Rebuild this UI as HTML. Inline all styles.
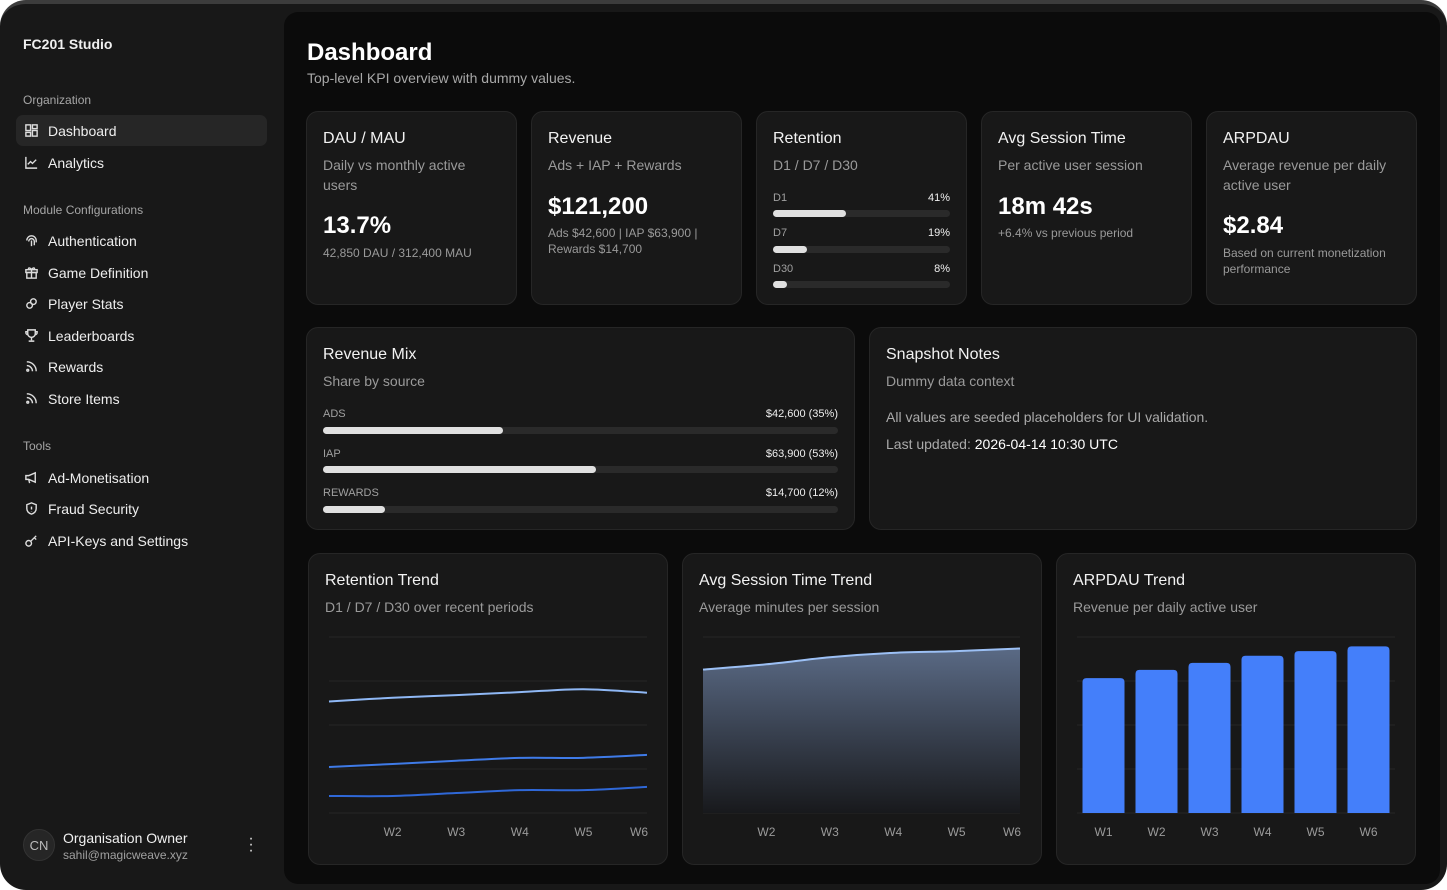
<!DOCTYPE html>
<html><head><meta charset="utf-8"><style>
*{box-sizing:border-box;margin:0;padding:0}
body{width:1447px;height:890px;background:#fff;font-family:"Liberation Sans",sans-serif;position:relative;overflow:hidden;color:#f2f2f2}
#frame{position:absolute;left:0;top:0;width:1447px;height:890px;background:#181818;border-radius:26px;border-top:4px solid #3c3c3c;overflow:hidden}
#side{position:absolute;left:0;top:0;width:284px;height:890px}
.abs{position:absolute}
.brand{left:23px;top:32px;font-size:14px;font-weight:bold;color:#f0f0f0}
.sec{left:23px;font-size:12px;color:#a6a6a6}
.nav{left:16px;width:251px;height:31px;border-radius:7px;display:flex;align-items:center;padding-left:8px;font-size:14px;color:#eee}
.nav svg{width:15px;height:15px;margin-right:9px;stroke:#ddd;fill:none;stroke-width:1.5}
.nav.act{background:#262626}
#main{position:absolute;left:284px;top:8px;width:1156px;height:872px;background:#0b0b0b;border-radius:14px}
.card{position:absolute;background:#181818;border:1px solid #262626;border-radius:12px}
.ct{position:absolute;left:16px;top:18px;font-size:16px;color:#f2f2f2}
.cs{position:absolute;left:16px;top:43px;font-size:14px;color:#9a9a9a;line-height:20px}
.big{position:absolute;left:16px;font-size:24px;font-weight:bold;color:#fff}
.sm{position:absolute;left:16px;font-size:12px;color:#9a9a9a;line-height:16px}
.track{position:absolute;height:7px;background:#2a2a2a;border-radius:4px}
.fill{height:7px;background:#e0e0e0;border-radius:4px}
.lbl{position:absolute;font-size:11px;color:#a0a0a0}
.val{position:absolute;font-size:11px;color:#eee;text-align:right}
</style></head><body>
<div id="frame">
<div id="side">
 <div class="abs brand">FC201 Studio</div>
 <div class="abs sec" style="top:89px">Organization</div>
 <div class="abs nav act" style="top:111px"><svg viewBox="0 0 16 16"><rect x="2" y="2" width="5" height="6"/><rect x="9" y="2" width="5" height="4"/><rect x="2" y="10" width="5" height="4"/><rect x="9" y="8" width="5" height="6"/></svg>Dashboard</div>
 <div class="abs nav" style="top:143px"><svg viewBox="0 0 16 16"><path d="M2 2v12h12M4 10l3-3 2 2 4-4"/></svg>Analytics</div>
 <div class="abs sec" style="top:199px">Module Configurations</div>
 <div class="abs nav" style="top:221px"><svg viewBox="0 0 16 16"><path d="M3 8a5 5 0 0 1 10 0v2M5 9a3 3 0 0 1 6 0v4M8 8v6"/></svg>Authentication</div>
 <div class="abs nav" style="top:253px"><svg viewBox="0 0 16 16"><rect x="2" y="5" width="12" height="3"/><rect x="3" y="8" width="10" height="6"/><path d="M8 5v9M8 5c-2-3-4-2-3 0M8 5c2-3 4-2 3 0"/></svg>Game Definition</div>
 <div class="abs nav" style="top:284px"><svg viewBox="0 0 16 16"><circle cx="6" cy="10" r="3"/><circle cx="10" cy="6" r="3"/></svg>Player Stats</div>
 <div class="abs nav" style="top:316px"><svg viewBox="0 0 16 16"><path d="M4 2h8v4a4 4 0 0 1-8 0zM8 10v3M5 14h6M4 4H2v1a2 2 0 0 0 2 2M12 4h2v1a2 2 0 0 1-2 2"/></svg>Leaderboards</div>
 <div class="abs nav" style="top:347px"><svg viewBox="0 0 16 16"><path d="M3 3a10 10 0 0 1 10 10M3 7a6 6 0 0 1 6 6"/><circle cx="4" cy="12" r="1"/></svg>Rewards</div>
 <div class="abs nav" style="top:379px"><svg viewBox="0 0 16 16"><path d="M3 3a10 10 0 0 1 10 10M3 7a6 6 0 0 1 6 6"/><circle cx="4" cy="12" r="1"/></svg>Store Items</div>
 <div class="abs sec" style="top:435px">Tools</div>
 <div class="abs nav" style="top:458px"><svg viewBox="0 0 16 16"><path d="M2 6h3l7-3v10l-7-3H2zM5 10l1 4"/></svg>Ad-Monetisation</div>
 <div class="abs nav" style="top:489px"><svg viewBox="0 0 16 16"><path d="M8 2l5 2v4c0 3-2 5-5 6-3-1-5-3-5-6V4zM8 6v3M8 11v.5"/></svg>Fraud Security</div>
 <div class="abs nav" style="top:521px"><svg viewBox="0 0 16 16"><circle cx="5" cy="11" r="3"/><path d="M7 9l6-6M11 5l2 2"/></svg>API-Keys and Settings</div>
 <div class="abs" style="left:23px;top:825px;width:32px;height:32px;border-radius:50%;background:#262626;border:1px solid #333;font-size:13px;color:#bbb;display:flex;align-items:center;justify-content:center">CN</div>
 <div class="abs" style="left:63px;top:826px;font-size:14px;color:#f0f0f0">Organisation Owner</div>
 <div class="abs" style="left:63px;top:844px;font-size:12px;color:#a0a0a0">sahil@magicweave.xyz</div>
 <div class="abs" style="left:245px;top:832px;font-size:16px;color:#ddd;line-height:6px;width:12px;text-align:center">·<br>·<br>·</div>
</div>

<div id="main">
 <div class="abs" style="left:23px;top:27px;font-size:24px;font-weight:bold;color:#fff">Dashboard</div>
 <div class="abs" style="left:23px;top:58px;font-size:14px;color:#a8a8a8">Top-level KPI overview with dummy values.</div>

 <div class="card" style="left:22px;top:99px;width:211px;height:194px">
  <div class="ct">DAU / MAU</div><div class="cs">Daily vs monthly active<br>users</div>
  <div class="big" style="top:100px">13.7%</div><div class="sm" style="top:133px">42,850 DAU / 312,400 MAU</div></div>
 <div class="card" style="left:247px;top:99px;width:211px;height:194px">
  <div class="ct">Revenue</div><div class="cs">Ads + IAP + Rewards</div>
  <div class="big" style="top:81px">$121,200</div><div class="sm" style="top:113px">Ads $42,600 | IAP $63,900 |<br>Rewards $14,700</div></div>
 <div class="card" style="left:472px;top:99px;width:211px;height:194px">
  <div class="ct">Retention</div><div class="cs">D1 / D7 / D30</div>
  <div class="lbl" style="left:16px;top:80px">D1</div><div class="val" style="right:16px;top:80px">41%</div>
  <div class="track" style="left:16px;top:98px;width:177px"><div class="fill" style="width:41%"></div></div>
  <div class="lbl" style="left:16px;top:115px">D7</div><div class="val" style="right:16px;top:115px">19%</div>
  <div class="track" style="left:16px;top:134px;width:177px"><div class="fill" style="width:19%"></div></div>
  <div class="lbl" style="left:16px;top:151px">D30</div><div class="val" style="right:16px;top:151px">8%</div>
  <div class="track" style="left:16px;top:169px;width:177px"><div class="fill" style="width:8%"></div></div></div>
 <div class="card" style="left:697px;top:99px;width:211px;height:194px">
  <div class="ct">Avg Session Time</div><div class="cs">Per active user session</div>
  <div class="big" style="top:81px">18m 42s</div><div class="sm" style="top:113px">+6.4% vs previous period</div></div>
 <div class="card" style="left:922px;top:99px;width:211px;height:194px">
  <div class="ct">ARPDAU</div><div class="cs">Average revenue per daily<br>active user</div>
  <div class="big" style="top:100px">$2.84</div><div class="sm" style="top:133px">Based on current monetization<br>performance</div></div>

 <div class="card" style="left:22px;top:315px;width:549px;height:203px">
  <div class="ct">Revenue Mix</div><div class="cs">Share by source</div>
  <div class="lbl" style="left:16px;top:80px">ADS</div><div class="val" style="right:16px;top:80px">$42,600 (35%)</div>
  <div class="track" style="left:16px;top:99px;width:515px"><div class="fill" style="width:35%"></div></div>
  <div class="lbl" style="left:16px;top:120px">IAP</div><div class="val" style="right:16px;top:120px">$63,900 (53%)</div>
  <div class="track" style="left:16px;top:138px;width:515px"><div class="fill" style="width:53%"></div></div>
  <div class="lbl" style="left:16px;top:159px">REWARDS</div><div class="val" style="right:16px;top:159px">$14,700 (12%)</div>
  <div class="track" style="left:16px;top:178px;width:515px"><div class="fill" style="width:12%"></div></div></div>
 <div class="card" style="left:585px;top:315px;width:548px;height:203px">
  <div class="ct">Snapshot Notes</div><div class="cs">Dummy data context</div>
  <div class="abs" style="left:16px;top:81px;font-size:14px;color:#aaa">All values are seeded placeholders for UI validation.</div>
  <div class="abs" style="left:16px;top:108px;font-size:14px;color:#aaa">Last updated: <span style="color:#fff">2026-04-14 10:30 UTC</span></div></div>

 <div class="card" style="left:24px;top:541px;width:360px;height:312px">
  <div class="ct">Retention Trend</div><div class="cs">D1 / D7 / D30 over recent periods</div></div>
 <div class="card" style="left:398px;top:541px;width:360px;height:312px">
  <div class="ct">Avg Session Time Trend</div><div class="cs">Average minutes per session</div></div>
 <div class="card" style="left:772px;top:541px;width:360px;height:312px">
  <div class="ct">ARPDAU Trend</div><div class="cs">Revenue per daily active user</div></div>
</div>
<svg id="charts" class="abs" style="left:0;top:-4px" width="1447" height="890">
 <defs><linearGradient id="ag" x1="0" y1="0" x2="0" y2="1"><stop offset="0" stop-color="#5a6a85"/><stop offset="1" stop-color="#18191c"/></linearGradient></defs>
</svg>
</div>
<script>
const weeks=["W1","W2","W3","W4","W5","W6"];
const retD1=[38,39.3,40.2,41.2,42.2,41];
const retD7=[15.7,16.7,17.8,18.8,18.8,19.8];
const retD30=[5.8,5.8,6.8,7.8,7.8,8.9];
const retMax=60;
const sessionMinutes=[16.3,16.9,17.7,18.2,18.4,18.7];
const sessionMax=20;
const arpdau=[2.30,2.44,2.56,2.68,2.76,2.84];
const arpdauMax=3;
const NS="http://www.w3.org/2000/svg";
const svg=document.getElementById('charts');
function mk(t,a){const e=document.createElementNS(NS,t);for(const k in a)e.setAttribute(k,a[k]);svg.appendChild(e);return e;}
const top0=637,bot=813;
function grid(x0,x1){for(let i=0;i<5;i++){const y=top0+i*(bot-top0)/4;const g=mk('line',{x1:x0,x2:x1,y1:y,y2:y,stroke:'#262626','stroke-width':1});

}}
function xlab(x,t){const e=mk('text',{x:x,y:836,'font-size':12,fill:'#9a9a9a','text-anchor':'middle','font-family':'Liberation Sans, sans-serif'});e.textContent=t;

}
function smooth(pts){let d='M'+pts[0][0]+','+pts[0][1];for(let i=1;i<pts.length;i++){const p0=pts[Math.max(i-2,0)],p=pts[i-1],q=pts[i],q1=pts[Math.min(i+1,pts.length-1)];
 const c1=[p[0]+(q[0]-p0[0])/6,p[1]+(q[1]-p0[1])/6],c2=[q[0]-(q1[0]-p[0])/6,q[1]-(q1[1]-p[1])/6];
 d+=' C'+c1[0]+','+c1[1]+' '+c2[0]+','+c2[1]+' '+q[0]+','+q[1];}return d;}
const rx0=329,rx1=647;grid(rx0,rx1);
const rX=i=>rx0+i*(rx1-rx0)/(weeks.length-1), rY=v=>bot-v/retMax*(bot-top0);
[[retD1,'#8fb8f5','line-d1'],[retD7,'#3f7be8','line-d7'],[retD30,'#2f68d8','line-d30']].forEach(([s,c,n])=>{
 const p=mk('path',{d:smooth(s.map((v,i)=>[rX(i),rY(v)])),stroke:c,'stroke-width':2,fill:'none'});
 
 });
weeks.forEach((w,i)=>{if(i>0)xlab(i==weeks.length-1?rX(i)-8:rX(i),w);});
const sx0=703,sx1=1020;grid(sx0,sx1);
const sX=i=>sx0+i*(sx1-sx0)/(weeks.length-1), sY=v=>bot-v/sessionMax*(bot-top0);
const sp=sessionMinutes.map((v,i)=>[sX(i),sY(v)]);
const area=mk('path',{d:smooth(sp)+' L'+sx1+','+bot+' L'+sx0+','+bot+' Z',fill:'url(#ag)'});


const sl=mk('path',{d:smooth(sp),stroke:'#9cc0f5','stroke-width':2,fill:'none'});


weeks.forEach((w,i)=>{if(i>0)xlab(i==weeks.length-1?sX(i)-8:sX(i),w);});
const bx0=1077,bx1=1395;grid(bx0,bx1);
const slot=(bx1-bx0)/weeks.length,bw=42;
arpdau.forEach((v,i)=>{const cx=bx0+slot*(i+0.5),y=bot-v/arpdauMax*(bot-top0);
 const b=mk('path',{d:`M${cx-bw/2},${bot} V${y+4} Q${cx-bw/2},${y} ${cx-bw/2+4},${y} H${cx+bw/2-4} Q${cx+bw/2},${y} ${cx+bw/2},${y+4} V${bot} Z`,fill:'#447ffa'});
 
 
 xlab(cx,weeks[i]);});
</script>
</body></html>
